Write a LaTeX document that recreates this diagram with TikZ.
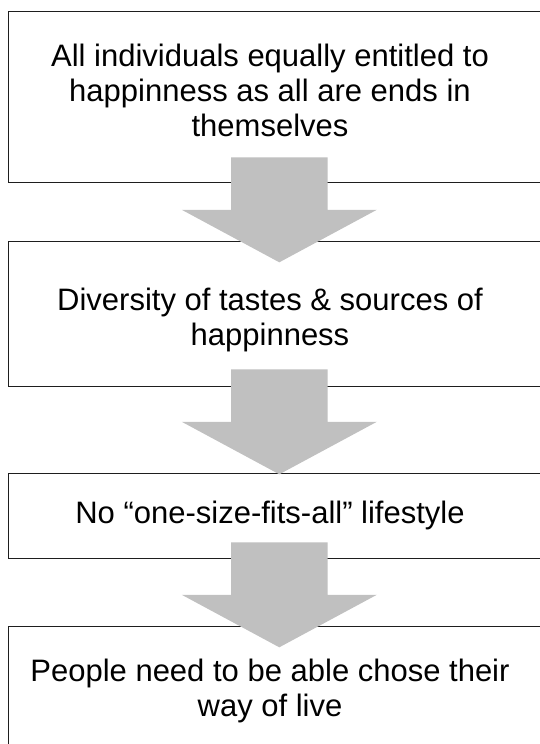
\documentclass[tikz,border=0pt]{standalone}
\usepackage{fontspec}
\setmainfont{Liberation Sans}
\definecolor{arrowgray}{HTML}{C0C0C0}
\definecolor{framecol}{HTML}{1E1E1E}
\begin{document}
\begin{tikzpicture}[x=1pt,y=-1pt,
  boxframe/.style={draw=framecol, line width=0.9pt, rectangle, inner sep=0pt, anchor=north west, minimum width=540pt},
  boxtext/.style={font=\fontsize{31}{35}\selectfont, align=center, inner sep=0pt, text=black},
  blockarrow/.pic={\fill[arrowgray] (-48.3,0) -- (48.3,0) -- (48.3,52.5) -- (97.5,52.5) -- (0,105) -- (-97.5,52.5) -- (-48.3,52.5) -- cycle;}
]
\useasboundingbox (0,0) rectangle (540,744);
\fill[white] (0,0) rectangle (540,744);
% boxes
\node[boxframe, minimum height=171.3pt] (b1) at (8.3,11) {};
\node[boxframe, minimum height=144.5pt] (b2) at (8.3,241) {};
\node[boxframe, minimum height=85.2pt] (b3) at (8.3,472.5) {};
\node[boxframe, minimum height=140pt] (b4) at (8.3,626) {};
% texts
\node[boxtext] (t1) at (270,90) {All individuals equally entitled to\\happinness as all are ends in\\themselves};
\node[boxtext] (t2) at (270,319.5) {Diversity of tastes \& sources of\\happinness};
\node[boxtext] (t3) at (270,515) {No “one-size-fits-all” lifestyle};
\node[boxtext] (t4) at (270,691) {People need to be able chose their\\way of live};
% block arrows
\coordinate (a1) at (279.3,157.3);
\coordinate (a2) at (279.3,369.3);
\coordinate (a3) at (279.3,542.3);
\pic at (a1) {blockarrow};
\pic at (a2) {blockarrow};
\pic at (a3) {blockarrow};
\end{tikzpicture}
\end{document}
